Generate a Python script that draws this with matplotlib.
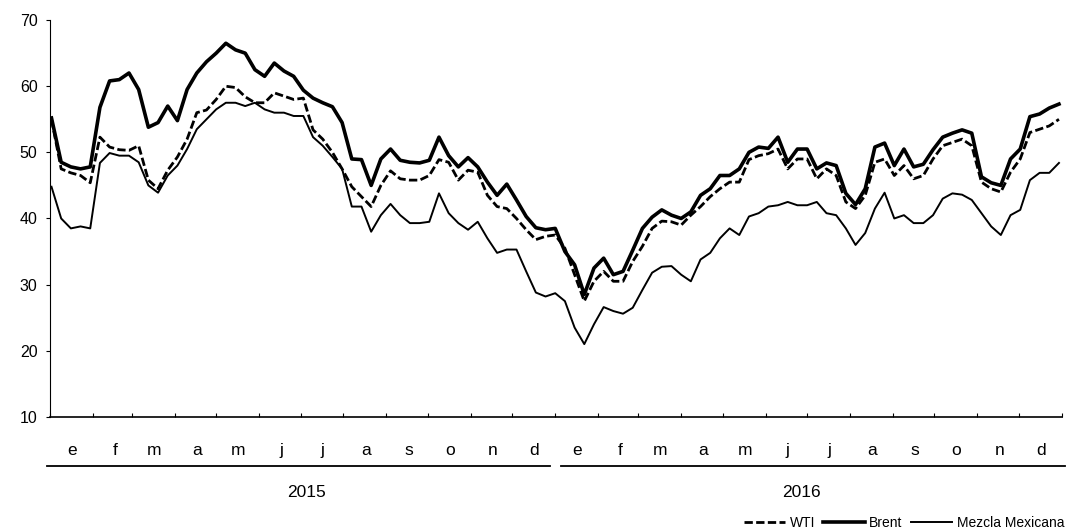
import numpy as np
import matplotlib
matplotlib.use("Agg")
import matplotlib.pyplot as plt
import matplotlib.dates as mdates
import matplotlib.transforms as mtransforms

plt.rcParams['font.family'] = ['Liberation Sans', 'DejaVu Sans']

# weekly closes (Fridays), 2015-01-02 .. 2016-12-30
weeks = np.arange(np.datetime64('2015-01-02'), np.datetime64('2016-12-31'), np.timedelta64(7, 'D'))

brent = [55.2, 48.5, 47.8, 47.5, 47.8, 56.8, 60.8, 61.0, 62.0, 59.5,
         53.8, 54.5, 57.0, 54.8, 59.5, 62.0, 63.7, 65.0, 66.5, 65.5,
         65.0, 62.5, 61.5, 63.5, 62.3, 61.5, 59.4, 58.2, 57.5, 56.9,
         54.5, 49.0, 48.9, 45.0, 49.0, 50.5, 48.8, 48.5, 48.4, 48.8,
         52.3, 49.5, 47.8, 49.2, 47.8, 45.5, 43.5, 45.2, 42.8, 40.3,
         38.6, 38.3, 38.5, 35.0, 33.0, 28.5, 32.5, 34.0, 31.5, 32.0,
         35.2, 38.5, 40.2, 41.3, 40.5, 40.0, 41.0, 43.5, 44.5, 46.5,
         46.5, 47.5, 50.0, 50.8, 50.6, 52.3, 48.5, 50.5, 50.5, 47.5,
         48.4, 48.0, 43.8, 42.1, 44.5, 50.8, 51.4, 48.0, 50.5, 47.8,
         48.2, 50.4, 52.3, 52.9, 53.4, 52.9, 46.3, 45.4, 45.0, 49.0,
         50.5, 55.4, 55.8, 56.7, 57.3]

wti = [55.0, 47.5, 46.9, 46.5, 45.4, 52.3, 50.8, 50.4, 50.3, 51.0,
       45.8, 44.5, 47.3, 49.3, 52.0, 56.0, 56.4, 58.0, 60.0, 59.8,
       58.4, 57.5, 57.5, 59.0, 58.5, 58.0, 58.2, 53.4, 52.0, 50.0,
       47.5, 44.8, 43.3, 41.8, 45.0, 47.2, 46.0, 45.8, 45.8, 46.5,
       48.9, 48.5, 45.8, 47.3, 47.0, 43.5, 41.8, 41.5, 40.0, 38.3,
       36.8, 37.3, 37.5, 35.5, 31.5, 27.5, 30.5, 32.0, 30.5, 30.5,
       33.5, 35.8, 38.5, 39.6, 39.5, 39.0, 40.5, 41.8, 43.3, 44.5,
       45.5, 45.5, 48.9, 49.5, 49.8, 50.5, 47.5, 49.0, 49.0, 46.0,
       47.5, 46.5, 42.5, 41.5, 43.5, 48.5, 49.0, 46.5, 48.0, 46.0,
       46.5, 49.0, 51.0, 51.5, 52.0, 51.0, 45.5, 44.5, 44.0, 47.0,
       49.0, 53.0, 53.5, 54.0, 55.0]

mezcla = [44.8, 40.0, 38.5, 38.8, 38.5, 48.4, 49.9, 49.5, 49.5, 48.5,
          45.0, 43.9, 46.5, 48.0, 50.5, 53.5, 55.0, 56.5, 57.5, 57.5,
          57.0, 57.5, 56.5, 56.0, 56.0, 55.5, 55.5, 52.3, 51.0, 49.3,
          47.5, 41.8, 41.8, 38.0, 40.5, 42.2, 40.5, 39.3, 39.3, 39.5,
          43.8, 40.8, 39.3, 38.3, 39.5, 37.0, 34.8, 35.3, 35.3, 32.0,
          28.8, 28.2, 28.7, 27.5, 23.5, 21.0, 24.0, 26.6, 26.0, 25.6,
          26.5, 29.2, 31.8, 32.7, 32.8, 31.5, 30.5, 33.8, 34.8, 37.0,
          38.5, 37.5, 40.3, 40.8, 41.8, 42.0, 42.5, 42.0, 42.0, 42.5,
          40.8, 40.5, 38.5, 36.0, 37.8, 41.5, 43.9, 40.0, 40.5, 39.3,
          39.3, 40.5, 43.0, 43.8, 43.6, 42.8, 40.8, 38.8, 37.5, 40.5,
          41.3, 45.8, 46.9, 46.9, 48.4]

months = ['e', 'f', 'm', 'a', 'm', 'j', 'j', 'a', 's', 'o', 'n', 'd']
years = ['2015', '2016']

fig = plt.figure(figsize=(10.66, 5.29), dpi=100)
ax = fig.add_axes([0.047, 0.212, 0.949, 0.75])

x = weeks.astype('datetime64[D]').astype(object)
ax.plot(x, wti, color='black', lw=2.0, ls=(0, (3, 1.2)), label='WTI')
ax.plot(x, brent, color='black', lw=2.6, label='Brent')
ax.plot(x, mezcla, color='black', lw=1.4, label='Mezcla Mexicana')

ax.set_xlim(mdates.datestr2num('2015-01-01'), mdates.datestr2num('2017-01-01'))
ax.set_ylim(10, 70)
ax.set_yticks(range(10, 71, 10))
ax.tick_params(axis='y', length=3, width=0.8, labelsize=11.5, pad=6)
ax.xaxis.set_major_locator(mdates.MonthLocator())
ax.tick_params(axis='x', length=3, direction='in', labelbottom=False)
for s in ['top', 'right']:
    ax.spines[s].set_visible(False)
ax.spines['left'].set_linewidth(0.8)
ax.spines['left'].set_linestyle((0, (4, 1)))
ax.spines['bottom'].set_linewidth(1.2)

trans = mtransforms.blended_transform_factory(ax.transData, ax.transAxes)
for yi, yr in enumerate(years):
    for mi, m in enumerate(months):
        mid = mdates.datestr2num('%s-%02d-17' % (yr, mi + 1))
        ax.text(mid, -0.085, m, transform=trans, ha='center', va='center', fontsize=12.5)
    start = mdates.datestr2num('%s-01-01' % yr) - (2 if yi == 0 else -4)
    end = mdates.datestr2num('%s-12-28' % yr) + (0 if yi == 0 else 6)
    ax.plot([start, end], [-0.123, -0.123], transform=trans, color='black', lw=1.3, clip_on=False)
    ax.text(mdates.datestr2num('%s-07-05' % yr) + (0 if yi == 0 else -8), -0.19, yr,
            transform=trans, ha='center', va='center', fontsize=12.5)

fig.legend(loc='lower right', bbox_to_anchor=(1.01, -0.025), ncol=3, frameon=False,
           fontsize=10, handlelength=3, columnspacing=0.6, handletextpad=0.3)

fig.savefig('out.png', dpi=100)
